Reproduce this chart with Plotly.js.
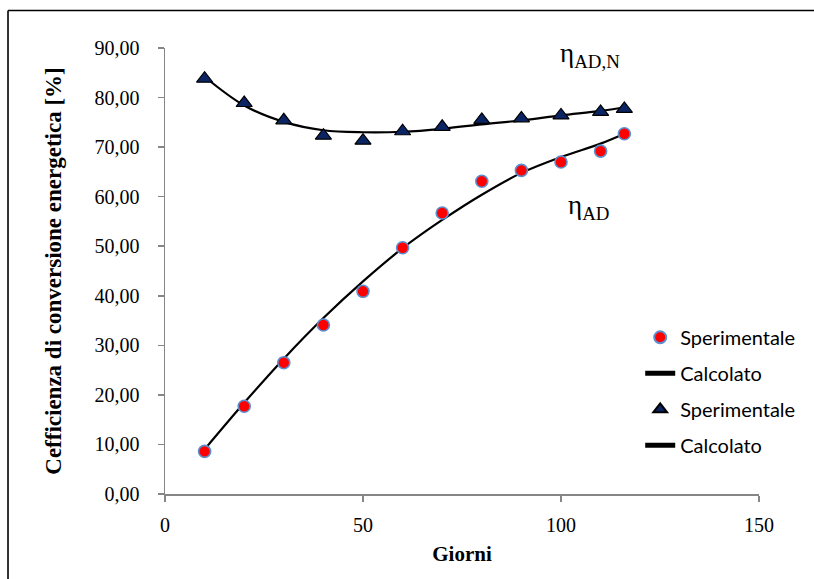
<!DOCTYPE html>
<html>
<head>
<meta charset="utf-8">
<script src="https://cdn.plot.ly/plotly-3.0.1.min.js"></script>
<style>
  html, body { margin: 0; padding: 0; background: #ffffff; }
  #chart { width: 814px; height: 579px; }
</style>
</head>
<body>
<div id="chart"></div>
<script>
// Giorni (days)
const giorni = [10, 20, 30, 40, 50, 60, 70, 80, 90, 100, 110, 116];

// eta_AD: measured and fitted values [%]
const etaAdSper = [8.6, 17.7, 26.5, 34.1, 40.9, 49.7, 56.7, 63.1, 65.3, 67.0, 69.2, 72.7];
const etaAdCalc = [9.0, 18.4, 27.3, 35.5, 42.9, 49.6, 55.3, 60.4, 64.8, 68.0, 70.7, 72.7];

// eta_AD,N: measured and fitted values [%]
const etaAdnSper = [83.8, 78.9, 75.4, 72.3, 71.3, 73.2, 74.1, 75.5, 75.8, 76.4, 77.1, 77.7];
const etaAdnCalc = [84.2, 78.4, 75.1, 73.4, 73.0, 73.1, 73.7, 74.6, 75.4, 76.4, 77.3, 78.0];

const xTicks = [0, 50, 100, 150];
const yTicks = [0, 10, 20, 30, 40, 50, 60, 70, 80, 90];
const yTickText = yTicks.map(v => v.toFixed(2).replace('.', ','));

const serif = 'Liberation Serif, Cambria, serif';
const sans = 'Lato, Calibri, sans-serif';

const traces = [
  {
    x: giorni, y: etaAdCalc, type: 'scatter', mode: 'lines',
    name: 'Calcolato', legendrank: 2, legendgroup: 'g2',
    line: { color: '#000000', width: 2.2, shape: 'spline', smoothing: 1 }
  },
  {
    x: giorni, y: etaAdnCalc, type: 'scatter', mode: 'lines',
    name: 'Calcolato', legendrank: 4, legendgroup: 'g4',
    line: { color: '#000000', width: 2.2, shape: 'spline', smoothing: 1 }
  },
  {
    x: giorni, y: etaAdSper, type: 'scatter', mode: 'markers',
    name: 'Sperimentale', legendrank: 1, legendgroup: 'g1',
    marker: { symbol: 'circle', size: 12, color: '#ff0000',
              line: { color: '#5b8fd0', width: 1.6 } }
  },
  {
    x: giorni, y: etaAdnSper, type: 'scatter', mode: 'markers',
    name: 'Sperimentale', legendrank: 3, legendgroup: 'g3',
    marker: { symbol: 'triangle-up', size: 14, color: '#0b2463',
              line: { color: '#000000', width: 1.2 } }
  }
];

const layout = {
  width: 814, height: 579,
  margin: { l: 165, r: 55, t: 48, b: 85 },
  paper_bgcolor: '#ffffff', plot_bgcolor: '#ffffff',
  showlegend: true,
  legend: {
    x: 0.80, y: 0.395, xanchor: 'left', yanchor: 'top',
    traceorder: 'grouped', tracegroupgap: 7,
    itemsizing: 'constant',
    font: { family: sans, size: 20, color: '#000000' },
    bgcolor: 'rgba(0,0,0,0)', borderwidth: 0
  },
  xaxis: {
    range: [0, 150], tickvals: xTicks, ticktext: xTicks.map(String),
    showgrid: false, zeroline: false, showline: true,
    linecolor: '#868686', linewidth: 1.5,
    ticks: 'outside', ticklen: 6, tickwidth: 1.5, tickcolor: '#868686',
    ticklabelstandoff: 6,
    tickfont: { family: serif, size: 20, color: '#000000' },
    title: { text: '<b>Giorni</b>', standoff: 12,
             font: { family: serif, size: 21, color: '#000000' } }
  },
  yaxis: {
    range: [0, 90], tickvals: yTicks, ticktext: yTickText,
    showgrid: false, zeroline: false, showline: true,
    linecolor: '#868686', linewidth: 1.5,
    ticks: 'outside', ticklen: 6, tickwidth: 1.5, tickcolor: '#868686',
    ticklabelstandoff: 14,
    tickfont: { family: serif, size: 20, color: '#000000' },
    title: { text: '<b>Cefficienza di conversione energetica [%]</b>', standoff: 26,
             font: { family: serif, size: 23, color: '#000000' } }
  },
  annotations: [
    {
      xref: 'x', yref: 'y', x: 99.2, y: 88.6, xanchor: 'left', yanchor: 'middle',
      text: 'η<sub>AD,N</sub>', showarrow: false,
      font: { family: serif, size: 27, color: '#000000' }
    },
    {
      xref: 'x', yref: 'y', x: 101.3, y: 58.0, xanchor: 'left', yanchor: 'middle',
      text: 'η<sub>AD</sub>', showarrow: false,
      font: { family: serif, size: 27, color: '#000000' }
    }
  ],
  shapes: [
    // outer frame (left and top edges visible)
    { type: 'line', xref: 'paper', yref: 'paper', x0: -0.2643, x1: -0.2643, y0: 1.084, y1: -0.25,
      line: { color: '#000000', width: 1.6 } },
    { type: 'line', xref: 'paper', yref: 'paper', x0: -0.2643, x1: 1.12, y0: 1.084, y1: 1.084,
      line: { color: '#000000', width: 1.6 } }
  ]
};

Plotly.newPlot('chart', traces, layout, { displayModeBar: false, staticPlot: true });
</script>
</body>
</html>
